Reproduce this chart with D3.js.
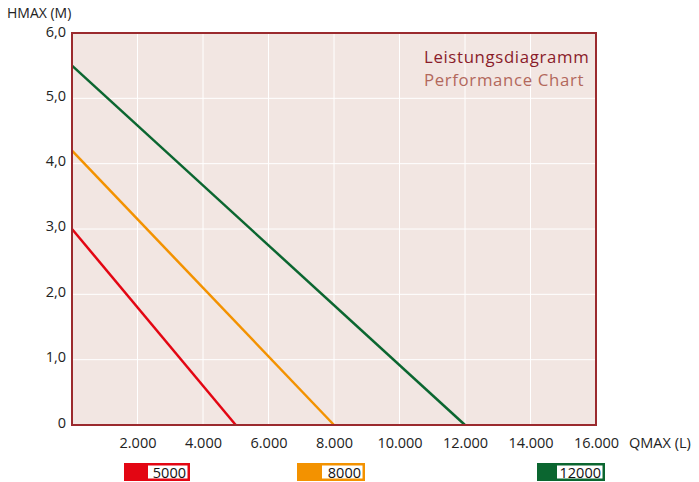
<!DOCTYPE html>
<html><head><meta charset="utf-8">
<script src="https://cdn.jsdelivr.net/npm/d3@7"></script>
<style>body{margin:0;background:#fff}svg{display:block}text{font-family:"Open Sans",sans-serif}</style>
</head><body>
<script>
const xTicks = [2000, 4000, 6000, 8000, 10000, 12000, 14000, 16000];
const yTicks = [0, 1, 2, 3, 4, 5, 6];
const seriesNames = ["5000", "8000", "12000"];
const seriesColors = ["#e30613", "#f39200", "#0b6630"];
const series5000 = [[0, 3.0], [5000, 0]];
const series8000 = [[0, 4.2], [8000, 0]];
const series12000 = [[0, 5.5], [12000, 0]];
const allSeries = [series5000, series8000, series12000];

const W = 699, H = 482;
const m = {l: 72, r: 596, t: 33, b: 425};
const FS = 14.5;
const svg = d3.select("body").append("svg").attr("width", W).attr("height", H);
const x = d3.scaleLinear().domain([0, 16000]).range([m.l, m.r]);
const y = d3.scaleLinear().domain([0, 6]).range([m.b, m.t]);

svg.append("rect").attr("x", m.l).attr("y", m.t).attr("width", m.r - m.l).attr("height", m.b - m.t).attr("fill", "#f2e6e2");

// grid
svg.append("g").selectAll("line").data(xTicks.slice(0, -1)).join("line")
  .attr("x1", d => x(d)).attr("x2", d => x(d)).attr("y1", m.t).attr("y2", m.b)
  .attr("stroke", "#fff").attr("stroke-width", 1);
svg.append("g").selectAll("line").data(yTicks.slice(1, -1)).join("line")
  .attr("x1", m.l).attr("x2", m.r).attr("y1", d => y(d)).attr("y2", d => y(d))
  .attr("stroke", "#fff").attr("stroke-width", 1);

// axes labels via d3 axes
const fmtX = d => d3.format(",")(d).replace(/,/g, ".");
const xAxis = svg.append("g").attr("transform", `translate(0,${m.b})`)
  .call(d3.axisBottom(x).tickValues(xTicks).tickFormat(fmtX).tickSize(0).tickPadding(12));
const yAxis = svg.append("g").attr("transform", `translate(${m.l},0)`)
  .call(d3.axisLeft(y).tickValues(yTicks).tickFormat(d => d === 0 ? "0" : d.toFixed(1).replace(".", ",")).tickSize(0).tickPadding(6));
[xAxis, yAxis].forEach(a => {
  a.select(".domain").remove();
  a.attr("font-size", FS).attr("font-family", "Open Sans, sans-serif");
  a.selectAll("text").attr("font-size", FS).attr("fill", "#222");
});
xAxis.selectAll("text").attr("dy", "0.75em");
yAxis.selectAll("text").attr("dy", "0.13em");
yAxis.selectAll(".tick").filter(d => d === 0).select("text").attr("dy", "0.2em");
yAxis.selectAll(".tick").filter(d => d === 6).select("text").attr("dy", "0.26em");

svg.append("text").attr("x", 7).attr("y", 17.5).attr("font-size", 14).attr("fill", "#222").text("HMAX (M)");
svg.append("text").attr("x", 629).attr("y", 448).attr("font-size", FS).attr("fill", "#222").text("QMAX (L)");

// lines
const line = d3.line().x(d => x(d[0])).y(d => y(d[1]));
svg.append("g").selectAll("path").data(allSeries).join("path")
  .attr("d", line).attr("fill", "none")
  .attr("stroke", (d, i) => seriesColors[i]).attr("stroke-width", 2.5);

// frame
svg.append("rect").attr("x", m.l).attr("y", m.t).attr("width", m.r - m.l).attr("height", m.b - m.t)
  .attr("fill", "none").attr("stroke", "#9b2a2e").attr("stroke-width", 2);

// titles
svg.append("text").attr("x", 424).attr("y", 63).attr("font-size", 16.8).attr("letter-spacing", 0.65).attr("fill", "#8a1c2a").text("Leistungsdiagramm");
svg.append("text").attr("x", 424).attr("y", 86).attr("font-size", 16.8).attr("letter-spacing", 0.65).attr("fill", "#b2685c").text("Performance Chart");

// legend
const legX = [124, 297, 537], legW = [66, 68, 68], whiteX = [148, 322, 557];
const lg = svg.append("g").selectAll("g").data(seriesNames).join("g");
lg.append("rect").attr("x", (d, i) => legX[i]).attr("y", 463).attr("width", (d, i) => legW[i]).attr("height", 18)
  .attr("fill", (d, i) => seriesColors[i]);
lg.append("rect").attr("x", (d, i) => whiteX[i]).attr("y", 465.5).attr("width", (d, i) => legX[i] + legW[i] - 2.5 - whiteX[i]).attr("height", 13)
  .attr("fill", "#fff");
lg.append("text").attr("x", (d, i) => legX[i] + legW[i] - 4).attr("y", 478).attr("text-anchor", "end")
  .attr("font-size", FS).attr("fill", "#111").text(d => d);
</script>
</body></html>
